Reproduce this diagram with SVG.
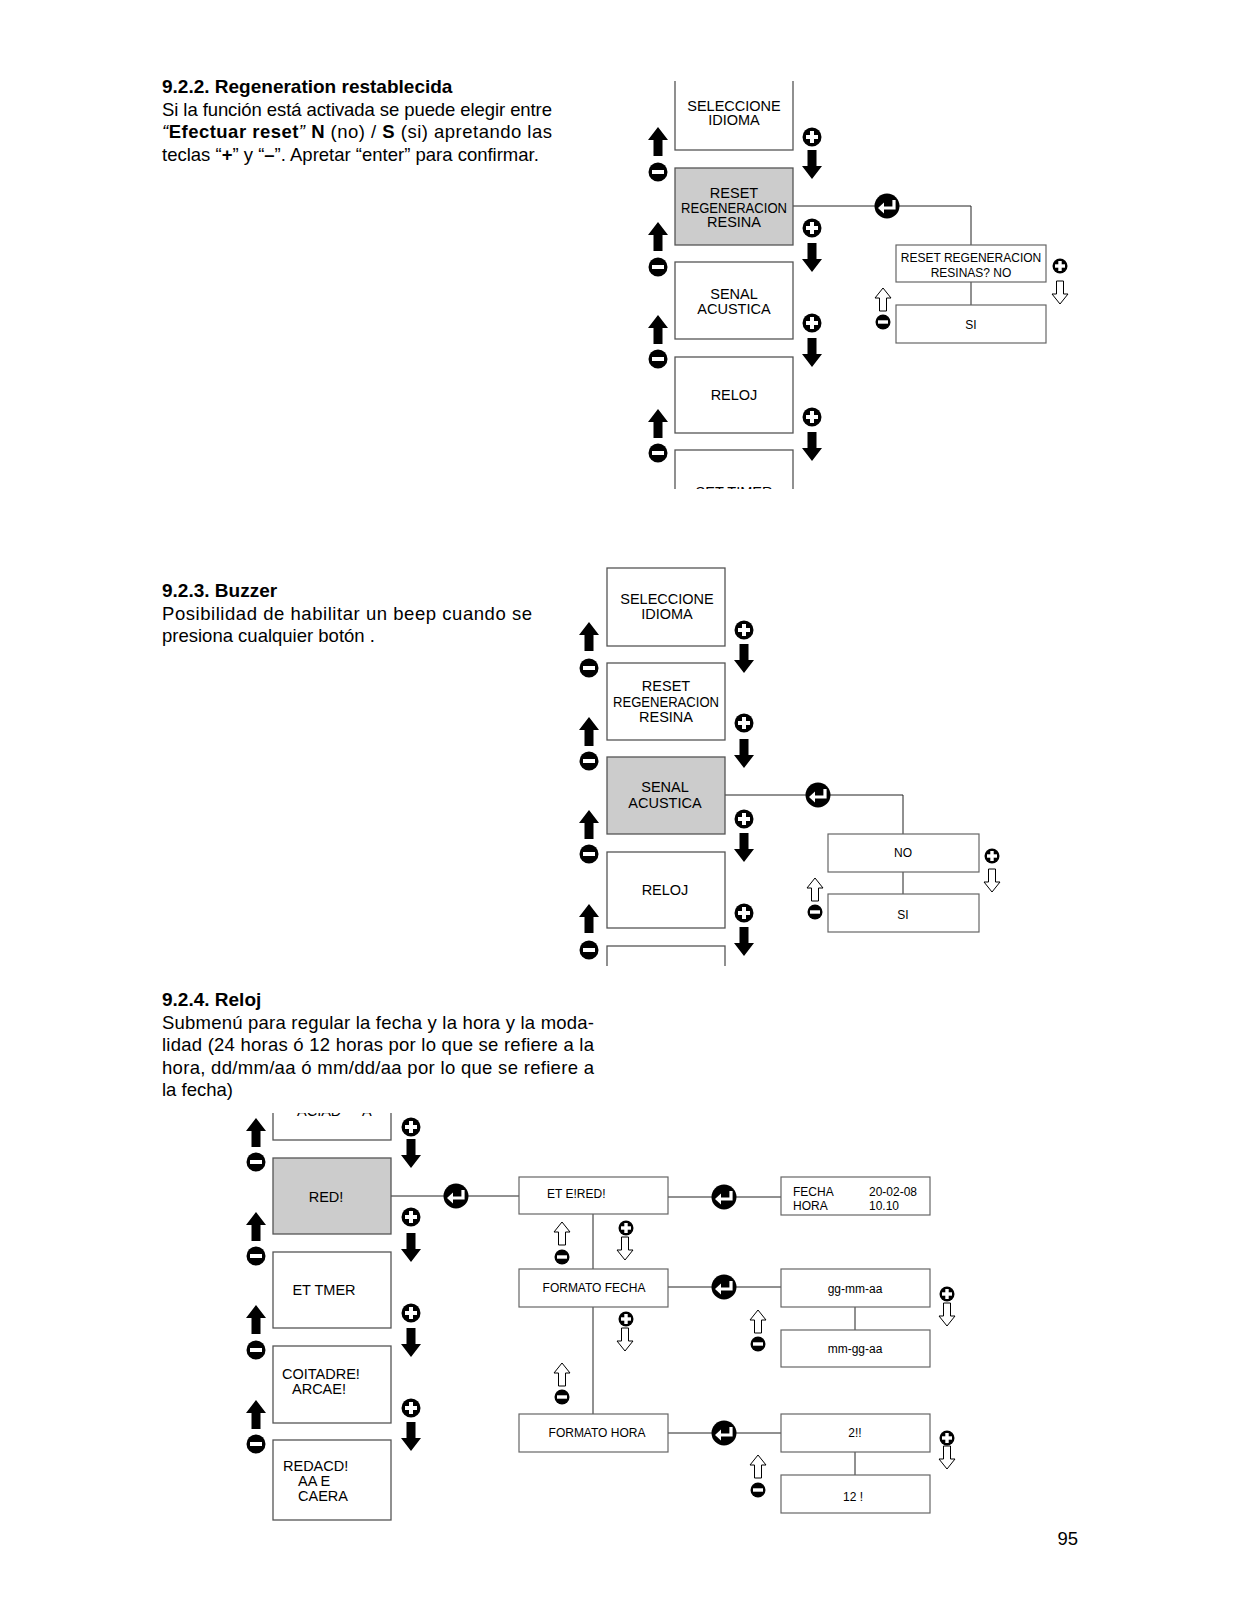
<svg xmlns="http://www.w3.org/2000/svg" width="1237" height="1600" viewBox="0 0 1237 1600">
<style>
text{font-family:"Liberation Sans",Arial,sans-serif;fill:#000}
.body{font-size:18.5px}
.h{font-size:19px;font-weight:bold}
.b{font-weight:bold}
.lbl{font-size:14.5px;text-anchor:middle}
.sm{font-size:12px;text-anchor:middle}
.sml{font-size:12px}
.box{fill:#fff;stroke:#555;stroke-width:1.3}
.sel{fill:#ccc;stroke:#555;stroke-width:1.3}
.sub{fill:#fff;stroke:#666;stroke-width:1.2}
.ln{fill:none;stroke:#222;stroke-width:1}
</style>
<defs>
<path id="upB" d="M0,0 L10,13 L4.5,13 L4.5,29 L-4.5,29 L-4.5,13 L-10,13 Z" fill="#000"/>
<path id="dnB" d="M0,29 L10,16 L4.5,16 L4.5,0 L-4.5,0 L-4.5,16 L-10,16 Z" fill="#000"/>
<path id="upO" d="M0,0 L8,10 L3.5,10 L3.5,23 L-3.5,23 L-3.5,10 L-8,10 Z" fill="#fff" stroke="#000" stroke-width="1"/>
<path id="dnO" d="M0,23 L8,13 L3.5,13 L3.5,0 L-3.5,0 L-3.5,13 L-8,13 Z" fill="#fff" stroke="#000" stroke-width="1"/>
<g id="minL"><circle r="9.5" fill="#000"/><rect x="-6" y="-2" width="12" height="4" fill="#fff"/></g>
<g id="plusL"><circle r="9.5" fill="#000"/><rect x="-6" y="-2" width="12" height="4" fill="#fff"/><rect x="-2" y="-6" width="4" height="12" fill="#fff"/></g>
<g id="minS"><circle r="7.5" fill="#000"/><rect x="-5" y="-1.7" width="10" height="3.4" fill="#fff"/></g>
<g id="plusS"><circle r="7.5" fill="#000"/><rect x="-5" y="-1.7" width="10" height="3.4" fill="#fff"/><rect x="-1.7" y="-5" width="3.4" height="10" fill="#fff"/></g>
<g id="enter"><circle r="12.5" fill="#000"/><path d="M7,-6 V2 H-3" fill="none" stroke="#fff" stroke-width="3.2"/><path d="M-9,2 L-3,-3.5 L-3,7.5 Z" fill="#fff"/></g>
<clipPath id="cTop"><rect x="600" y="81" width="500" height="408"/></clipPath>
<clipPath id="cMid"><rect x="540" y="540" width="500" height="426"/></clipPath>
<clipPath id="cBot"><rect x="200" y="1113" width="800" height="450"/></clipPath>
</defs>

<!-- Text blocks -->
<g id="text-922">
<text class="h" x="162" y="93">9.2.2. Regeneration restablecida</text>
<text class="body" x="162" y="115.5" textLength="390" lengthAdjust="spacing">Si la función está activada se puede elegir entre</text>
<text class="body" x="162" y="138" textLength="390" lengthAdjust="spacing"><tspan font-style="italic">“</tspan><tspan class="b">Efectuar reset</tspan><tspan font-style="italic">” </tspan><tspan class="b">N</tspan> (no) / <tspan class="b">S</tspan> (si) apretando las</text>
<text class="body" x="162" y="160.5">teclas “<tspan class="b">+</tspan>” y “<tspan class="b">–</tspan>”. Apretar “enter” para confirmar.</text>
</g>
<g id="text-923">
<text class="h" x="162" y="597">9.2.3. Buzzer</text>
<text class="body" x="162" y="619.5" textLength="370" lengthAdjust="spacing">Posibilidad de habilitar un beep cuando se</text>
<text class="body" x="162" y="642">presiona cualquier botón .</text>
</g>
<g id="text-924">
<text class="h" x="162" y="1006">9.2.4. Reloj</text>
<text class="body" x="162" y="1028.5" textLength="432" lengthAdjust="spacing">Submenú para regular la fecha y la hora y la moda-</text>
<text class="body" x="162" y="1051" textLength="432" lengthAdjust="spacing">lidad (24 horas ó 12 horas por lo que se refiere a la</text>
<text class="body" x="162" y="1073.5" textLength="432" lengthAdjust="spacing">hora, dd/mm/aa ó mm/dd/aa por lo que se refiere a</text>
<text class="body" x="162" y="1096">la fecha)</text>
</g>
<text id="page" class="body" x="1078" y="1545" text-anchor="end">95</text>

<!-- ===== Diagram 1 ===== -->
<g id="diagram1" clip-path="url(#cTop)">
<g id="connectors1">
<path class="ln" d="M793,206 H971 V245"/>
<path class="ln" d="M971,282 V305"/>
</g>
<g id="n1-seleccione"><rect class="box" x="675" y="40" width="118" height="110"/><text class="lbl" x="734" y="111">SELECCIONE</text><text class="lbl" x="734" y="124.5">IDIOMA</text></g>
<g id="n1-reset"><rect class="sel" x="675" y="168" width="118" height="77"/><text class="lbl" x="734" y="198">RESET</text><text class="lbl" x="734" y="212.5" textLength="106" lengthAdjust="spacingAndGlyphs">REGENERACION</text><text class="lbl" x="734" y="227">RESINA</text></g>
<g id="n1-senal"><rect class="box" x="675" y="262" width="118" height="77"/><text class="lbl" x="734" y="299">SENAL</text><text class="lbl" x="734" y="314">ACUSTICA</text></g>
<g id="n1-reloj"><rect class="box" x="675" y="357" width="118" height="76"/><text class="lbl" x="734" y="400">RELOJ</text></g>
<g id="n1-settimer"><rect class="box" x="675" y="450" width="118" height="80"/><text class="lbl" x="734" y="497">SET TIMER</text></g>
<g id="n1-resetq"><rect class="sub" x="896" y="245" width="150" height="37"/><text class="sm" x="971" y="262">RESET REGENERACION</text><text class="sm" x="971" y="277">RESINAS? NO</text></g>
<g id="n1-si"><rect class="sub" x="896" y="305" width="150" height="38"/><text class="sm" x="971" y="329">SI</text></g>
<g id="icons1">
<use href="#upB" x="658" y="127"/><use href="#minL" x="658" y="172"/>
<use href="#upB" x="658" y="222"/><use href="#minL" x="658" y="267"/>
<use href="#upB" x="658" y="315"/><use href="#minL" x="658" y="359"/>
<use href="#upB" x="658" y="409"/><use href="#minL" x="658" y="453"/>
<use href="#plusL" x="812" y="137"/><use href="#dnB" x="812" y="150"/>
<use href="#plusL" x="812" y="228"/><use href="#dnB" x="812" y="243"/>
<use href="#plusL" x="812" y="323"/><use href="#dnB" x="812" y="338"/>
<use href="#plusL" x="812" y="417"/><use href="#dnB" x="812" y="432"/>
<use href="#enter" x="887" y="206"/>
<use href="#upO" x="883" y="288"/><use href="#minS" x="883" y="322"/>
<use href="#plusS" x="1060" y="266"/><use href="#dnO" x="1060" y="281"/>
</g>
</g>

<!-- ===== Diagram 2 ===== -->
<g id="diagram2" clip-path="url(#cMid)">
<g id="connectors2">
<path class="ln" d="M725,795 H903 V834"/>
<path class="ln" d="M903,872 V894"/>
</g>
<g id="n2-seleccione"><rect class="box" x="607" y="568" width="118" height="78"/><text class="lbl" x="667" y="604">SELECCIONE</text><text class="lbl" x="667" y="619">IDIOMA</text></g>
<g id="n2-reset"><rect class="box" x="607" y="663" width="118" height="77"/><text class="lbl" x="666" y="691">RESET</text><text class="lbl" x="666" y="707" textLength="106" lengthAdjust="spacingAndGlyphs">REGENERACION</text><text class="lbl" x="666" y="722">RESINA</text></g>
<g id="n2-senal"><rect class="sel" x="607" y="757" width="118" height="77"/><text class="lbl" x="665" y="792">SENAL</text><text class="lbl" x="665" y="808">ACUSTICA</text></g>
<g id="n2-reloj"><rect class="box" x="607" y="852" width="118" height="76"/><text class="lbl" x="665" y="895">RELOJ</text></g>
<g id="n2-next"><rect class="box" x="607" y="946" width="118" height="60"/></g>
<g id="n2-no"><rect class="sub" x="828" y="834" width="151" height="38"/><text class="sm" x="903" y="857">NO</text></g>
<g id="n2-si"><rect class="sub" x="828" y="894" width="151" height="38"/><text class="sm" x="903" y="919">SI</text></g>
<g id="icons2">
<use href="#upB" x="589" y="622"/><use href="#minL" x="589" y="668"/>
<use href="#upB" x="589" y="717"/><use href="#minL" x="589" y="761"/>
<use href="#upB" x="589" y="810"/><use href="#minL" x="589" y="854"/>
<use href="#upB" x="589" y="904"/><use href="#minL" x="589" y="950"/>
<use href="#plusL" x="744" y="630"/><use href="#dnB" x="744" y="644"/>
<use href="#plusL" x="744" y="723"/><use href="#dnB" x="744" y="739"/>
<use href="#plusL" x="744" y="819"/><use href="#dnB" x="744" y="833"/>
<use href="#plusL" x="744" y="913"/><use href="#dnB" x="744" y="927"/>
<use href="#enter" x="818" y="795"/>
<use href="#upO" x="815" y="878"/><use href="#minS" x="815" y="912"/>
<use href="#plusS" x="992" y="856"/><use href="#dnO" x="992" y="869"/>
</g>
</g>

<!-- ===== Diagram 3 ===== -->
<g id="diagram3" clip-path="url(#cBot)">
<g id="connectors3">
<path class="ln" d="M391,1196 H519"/>
<path class="ln" d="M668,1197 H781"/>
<path class="ln" d="M593,1214 V1269 M593,1307 V1414"/>
<path class="ln" d="M668,1287 H781"/>
<path class="ln" d="M855,1307 V1330"/>
<path class="ln" d="M668,1433 H781"/>
<path class="ln" d="M855,1452 V1475"/>
</g>
<g id="n3-top"><rect class="box" x="273" y="1040" width="118" height="100"/><text class="lbl" style="text-anchor:start" x="297" y="1116">ACIAD<tspan x="362">A</tspan></text></g>
<g id="n3-red"><rect class="sel" x="273" y="1158" width="118" height="76"/><text class="lbl" x="326" y="1202">RED!</text></g>
<g id="n3-ettmer"><rect class="box" x="273" y="1252" width="118" height="76"/><text class="lbl" x="324" y="1295">ET TMER</text></g>
<g id="n3-cotadre"><rect class="box" x="273" y="1346" width="118" height="77"/><text class="lbl" style="text-anchor:start" x="282" y="1379">COITADRE!</text><text class="lbl" style="text-anchor:start" x="292" y="1394">ARCAE!</text></g>
<g id="n3-redacd"><rect class="box" x="273" y="1440" width="118" height="80"/><text class="lbl" style="text-anchor:start" x="283" y="1471">REDACD!</text><text class="lbl" style="text-anchor:start" x="298" y="1486">AA E</text><text class="lbl" style="text-anchor:start" x="298" y="1501">CAERA</text></g>
<g id="n3-eterred"><rect class="sub" x="519" y="1177" width="149" height="37"/><text class="sml" x="547" y="1198">ET E!RED!</text></g>
<g id="n3-fecha"><rect class="sub" x="781" y="1177" width="149" height="38"/><text class="sml" x="793" y="1196">FECHA</text><text class="sml" x="793" y="1210">HORA</text><text class="sml" x="869" y="1196">20-02-08</text><text class="sml" x="869" y="1210">10.10</text></g>
<g id="n3-formfecha"><rect class="sub" x="519" y="1269" width="149" height="38"/><text class="sm" x="594" y="1292">FORMATO FECHA</text></g>
<g id="n3-ggmmaa"><rect class="sub" x="781" y="1269" width="149" height="38"/><text class="sm" x="855" y="1293">gg-mm-aa</text></g>
<g id="n3-mmggaa"><rect class="sub" x="781" y="1330" width="149" height="37"/><text class="sm" x="855" y="1353">mm-gg-aa</text></g>
<g id="n3-formhora"><rect class="sub" x="519" y="1414" width="149" height="38"/><text class="sm" x="597" y="1437">FORMATO HORA</text></g>
<g id="n3-24"><rect class="sub" x="781" y="1414" width="149" height="38"/><text class="sm" x="855" y="1437">2!!</text></g>
<g id="n3-12"><rect class="sub" x="781" y="1475" width="149" height="38"/><text class="sm" x="853" y="1501">12 !</text></g>
<g id="icons3">
<use href="#upB" x="256" y="1118"/><use href="#minL" x="256" y="1162"/>
<use href="#upB" x="256" y="1212"/><use href="#minL" x="256" y="1256"/>
<use href="#upB" x="256" y="1305"/><use href="#minL" x="256" y="1350"/>
<use href="#upB" x="256" y="1400"/><use href="#minL" x="256" y="1444"/>
<use href="#plusL" x="411" y="1127"/><use href="#dnB" x="411" y="1139"/>
<use href="#plusL" x="411" y="1217"/><use href="#dnB" x="411" y="1233"/>
<use href="#plusL" x="411" y="1313"/><use href="#dnB" x="411" y="1328"/>
<use href="#plusL" x="411" y="1408"/><use href="#dnB" x="411" y="1422"/>
<use href="#enter" x="456" y="1196"/>
<use href="#enter" x="724" y="1197"/>
<use href="#enter" x="724" y="1287"/>
<use href="#enter" x="724" y="1433"/>
<use href="#upO" x="562" y="1222"/><use href="#minS" x="562" y="1257"/>
<use href="#plusS" x="626" y="1228"/><use href="#dnO" x="625" y="1237"/>
<use href="#plusS" x="626" y="1319"/><use href="#dnO" x="625" y="1328"/>
<use href="#upO" x="562" y="1363"/><use href="#minS" x="562" y="1397"/>
<use href="#upO" x="758" y="1310"/><use href="#minS" x="758" y="1344"/>
<use href="#upO" x="758" y="1455"/><use href="#minS" x="758" y="1490"/>
<use href="#plusS" x="947" y="1294"/><use href="#dnO" x="947" y="1303"/>
<use href="#plusS" x="947" y="1438"/><use href="#dnO" x="947" y="1446"/>
</g>
</g>
</svg>
